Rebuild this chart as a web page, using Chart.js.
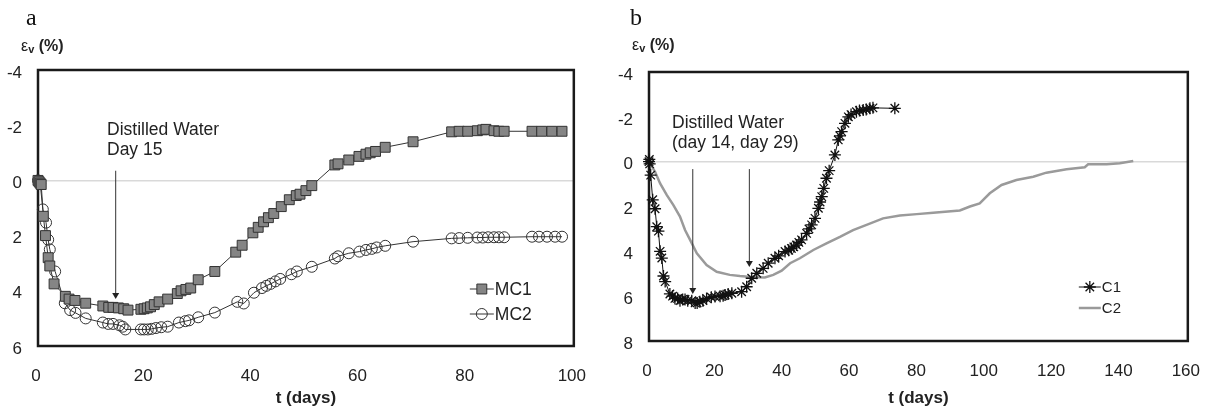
<!DOCTYPE html>
<html>
<head>
<meta charset="utf-8">
<script src="https://cdn.jsdelivr.net/npm/chart.js@4.4.0/dist/chart.umd.min.js"></script>
<style>
  body { margin: 0; background: #fff; font-family: "Liberation Sans", Arial, sans-serif; color: #222; }
  #page { position: relative; width: 1214px; height: 412px; overflow: hidden; }
  canvas { position: absolute; top: 0; }
  .txt { position: absolute; white-space: nowrap; }
  .panel { font-family: "Liberation Serif", "Times New Roman", serif; font-size: 24px; line-height: 24px; color: #111; }
  .ylab { font-size: 16px; line-height: 16px; color: #222; }
  .ylab b sub { font-size: 11px; vertical-align: -2px; }
  .note { font-size: 17.5px; line-height: 20px; color: #222; }
</style>
</head>
<body>
<div id="page">
  <canvas id="chartA" width="600" height="412" style="left:0"></canvas>
  <canvas id="chartB" width="607" height="412" style="left:607px"></canvas>

  <div class="txt panel" style="left:26px; top:5px">a</div>
  <div class="txt ylab" style="left:21px; top:38px">ε<b><sub>v</sub> (%)</b></div>
  <div class="txt note" style="left:107px; top:119px">Distilled Water<br>Day 15</div>

  <div class="txt panel" style="left:630px; top:5px">b</div>
  <div class="txt ylab" style="left:632px; top:37px">ε<b><sub>v</sub> (%)</b></div>
  <div class="txt note" style="left:672px; top:112px">Distilled Water<br>(day 14, day 29)</div>
</div>
<script>
// panel a - MC1 / MC2
const mc1Days = [0, 0.2, 0.4, 0.6, 1.0, 1.4, 1.9, 2.2, 3.0, 5.1, 5.8, 6.9, 8.9, 12.1, 13.2, 14.0, 15.0, 16.0, 16.8,
  19.2, 19.8, 20.4, 21.0, 21.7, 22.6, 24.2, 26.0, 26.7, 27.6, 28.5, 29.9, 33.0, 36.9, 38.1, 40.1, 41.1, 42.1, 43.0,
  44.0, 45.4, 46.9, 48.2, 48.9, 50.0, 51.1, 55.4, 56.0, 58.0, 59.9, 61.2, 62.0, 63.0, 64.8, 70.0, 77.2, 78.6, 80.2,
  82.0, 83.0, 83.6, 85.1, 86.0, 87.0, 92.2, 94.0, 95.9, 97.8];
const mc1Strain = [0, 0.05, 0.1, 0.15, 1.3, 2.0, 2.8, 3.1, 3.75, 4.2, 4.3, 4.35, 4.45, 4.55, 4.6, 4.6, 4.62, 4.65, 4.7,
  4.67, 4.65, 4.62, 4.58, 4.5, 4.4, 4.3, 4.1, 4.0, 3.95, 3.9, 3.6, 3.3, 2.6, 2.35, 1.9, 1.7, 1.5, 1.35,
  1.2, 0.95, 0.7, 0.55, 0.5, 0.37, 0.19, -0.56, -0.6, -0.74, -0.87, -0.95, -1.0, -1.05, -1.2, -1.4, -1.76, -1.78, -1.78,
  -1.8, -1.83, -1.85, -1.8, -1.78, -1.78, -1.78, -1.78, -1.78, -1.78];

const mc2Days = [0, 0.2, 0.4, 0.9, 1.5, 1.9, 2.2, 3.2, 5.0, 6.0, 7.0, 8.9, 12.1, 13.1, 14.0, 15.2, 15.8, 16.3,
  19.2, 19.8, 20.5, 21.2, 22.0, 23.0, 24.2, 26.3, 27.5, 28.2, 29.9, 33.0, 37.2, 38.4, 40.3, 41.8, 42.6, 43.4, 44.3,
  45.2, 47.3, 48.3, 51.1, 55.4, 56.0, 58.0, 60.0, 61.2, 62.3, 63.2, 64.8, 70.0, 77.2, 78.6, 80.2, 82.0, 83.0, 84.0,
  85.1, 86.0, 87.0, 92.2, 93.5, 95.0, 96.5, 97.8];
const mc2Strain = [0, 0.05, 0.1, 1.05, 1.53, 2.15, 2.5, 3.3, 4.45, 4.7, 4.8, 5.0, 5.15, 5.2, 5.2, 5.25, 5.3, 5.4,
  5.4, 5.4, 5.4, 5.38, 5.35, 5.32, 5.3, 5.15, 5.1, 5.07, 4.96, 4.79, 4.4, 4.46, 4.07, 3.9, 3.82, 3.75, 3.66,
  3.57, 3.4, 3.3, 3.13, 2.83, 2.75, 2.64, 2.58, 2.52, 2.48, 2.43, 2.37, 2.22, 2.1, 2.09, 2.08, 2.07, 2.07, 2.06,
  2.06, 2.06, 2.06, 2.04, 2.04, 2.04, 2.04, 2.04];

// panel b - C1 / C2
const c1Days = [0, 0.1, 0.2, 0.5, 1.1, 1.8, 2.3, 2.8, 3.3, 3.8, 4.3, 4.8, 6.2, 7.0, 7.7, 8.5, 9.2, 10.0, 10.7, 11.5,
  12.7, 13.7, 14.3, 15.1, 16.0, 17.1, 18.5, 19.6, 21.1, 22.0, 22.6, 23.5, 24.6, 27.5, 29.0, 30.5, 32.0, 33.9, 35.4,
  37.4, 38.5, 40.4, 41.5, 42.3, 43.0, 43.8, 44.5, 45.3, 46.8, 47.5, 48.3, 49.3, 50.3, 50.8, 51.3, 51.9, 52.7, 53.5,
  55.2, 56.2, 56.7, 57.2, 58.2, 59.2, 60.0, 61.6, 62.5, 63.6, 64.5, 65.6, 66.5, 73.0];
const c1Strain = [0, -0.1, 0.1, 0.6, 1.7, 2.1, 2.9, 3.1, 4.0, 4.3, 5.1, 5.35, 5.9, 6.0, 6.1, 6.1, 6.2, 6.15, 6.15, 6.2,
  6.2, 6.3, 6.3, 6.25, 6.2, 6.1, 6.05, 6.02, 6.0, 5.98, 5.95, 5.9, 5.87, 5.8, 5.58, 5.2, 4.98, 4.76, 4.53,
  4.31, 4.2, 4.01, 3.95, 3.87, 3.8, 3.72, 3.6, 3.49, 3.2, 3.0, 2.82, 2.53, 2.08, 1.8, 1.56, 1.19, 0.74, 0.4,
  -0.3, -0.97, -1.15, -1.34, -1.71, -2.0, -2.1, -2.23, -2.28, -2.3, -2.33, -2.38, -2.4, -2.38];

const c2Days = [0, 1.8, 3.3, 5.3, 7.2, 9.2, 10.7, 12.2, 14.2, 17.1, 20.1, 24.0, 27.0, 29.5, 32.0, 34.4, 36.9, 39.4,
  41.9, 44.8, 48.8, 52.7, 56.7, 60.6, 64.6, 69.5, 74.5, 79.5, 84.4, 92.3, 95.3, 98.2, 101.2, 104.7, 109.1, 114.1,
  118.0, 124.0, 129.4, 130.4, 135.9, 139.8, 143.8];
const c2Strain = [0, 0.45, 0.97, 1.49, 1.93, 2.45, 3.05, 3.49, 4.09, 4.61, 4.91, 5.05, 5.1, 5.13, 5.16, 5.17, 5.05, 4.86,
  4.53, 4.31, 3.94, 3.64, 3.35, 3.05, 2.82, 2.53, 2.4, 2.34, 2.28, 2.18, 2.0, 1.86, 1.41, 1.04, 0.82, 0.67,
  0.49, 0.34, 0.25, 0.12, 0.12, 0.07, -0.03];

// arrows marking the distilled water (day, top of line, tip)
const arrowsA = [{ day: 14.5, from: -0.35, to: 4.3 }];
const arrowsB = [{ day: 13, from: 0.33, to: 5.9 }, { day: 29.8, from: 0.33, to: 4.7 }];

const pts = (xs, ys) => xs.map((x, i) => ({ x: x, y: ys[i] }));
const FONT = '"Liberation Sans", Arial, sans-serif';

const framePlugin = {
  id: 'frame',
  beforeDatasetsDraw(chart) {
    const { ctx, chartArea: a } = chart;
    ctx.save();
    ctx.lineWidth = 2.5;
    ctx.strokeStyle = '#1a1a1a';
    ctx.strokeRect(a.left, a.top, a.right - a.left, a.bottom - a.top);
    ctx.restore();
  }
};

const arrowPlugin = {
  id: 'arrows',
  afterDatasetsDraw(chart, args, opts) {
    const { ctx, scales } = chart;
    ctx.save();
    ctx.strokeStyle = '#333';
    ctx.fillStyle = '#222';
    ctx.lineWidth = 1;
    (opts.items || []).forEach(a => {
      const x = scales.x.getPixelForValue(a.day);
      const y0 = scales.y.getPixelForValue(a.from);
      const y1 = scales.y.getPixelForValue(a.to);
      ctx.beginPath();
      ctx.moveTo(x, y0);
      ctx.lineTo(x, y1 - 5);
      ctx.stroke();
      ctx.beginPath();
      ctx.moveTo(x - 3.5, y1 - 6);
      ctx.lineTo(x + 3.5, y1 - 6);
      ctx.lineTo(x, y1);
      ctx.closePath();
      ctx.fill();
    });
    ctx.restore();
  }
};

// small legend inside the plot, bottom right
const boxLegend = {
  id: 'boxLegend',
  afterDraw(chart, args, opts) {
    const { ctx, chartArea: a } = chart;
    const cx = a.right - opts.dx;
    let y = a.bottom - opts.dy;
    ctx.save();
    chart.data.datasets.forEach(ds => {
      ctx.strokeStyle = ds.borderColor;
      ctx.lineWidth = ds.borderWidth;
      ctx.beginPath();
      ctx.moveTo(cx - opts.half, y);
      ctx.lineTo(cx + opts.half, y);
      ctx.stroke();
      if (ds.pointRadius > 0) {
        ctx.fillStyle = ds.pointBackgroundColor;
        ctx.strokeStyle = ds.pointBorderColor;
        ctx.lineWidth = ds.pointBorderWidth;
        Chart.helpers.drawPoint(ctx, {
          pointStyle: ds.pointStyle,
          radius: ds.pointRadius,
          borderWidth: ds.pointBorderWidth
        }, cx, y);
      }
      ctx.fillStyle = '#222';
      ctx.font = opts.font;
      ctx.textBaseline = 'middle';
      ctx.fillText(ds.label, cx + opts.half + 1, y + 1);
      y += opts.gap;
    });
    ctx.restore();
  }
};

function makeOptions(cfg) {
  return {
    responsive: false,
    animation: false,
    devicePixelRatio: 1,
    layout: { padding: { top: cfg.top, right: cfg.right, left: 0, bottom: 0 } },
    plugins: {
      legend: { display: false },
      tooltip: { enabled: false },
      arrows: { items: cfg.arrows },
      boxLegend: cfg.legend
    },
    scales: {
      x: {
        type: 'linear',
        min: 0, max: cfg.xMax,
        afterFit: s => { s.height = cfg.xHeight; },
        border: { display: false },
        grid: { display: false },
        ticks: { stepSize: cfg.xStep, padding: 12, maxRotation: 0, labelOffset: -2, color: '#222', font: { family: FONT, size: 17 } },
        title: { display: true, text: 't (days)', color: '#222', padding: { top: 0, bottom: 3 }, font: { family: FONT, size: 17, weight: 'bold' } }
      },
      y: {
        type: 'linear',
        reverse: true,
        min: -4, max: cfg.yMax,
        afterFit: s => { s.width = cfg.yWidth; },
        border: { display: false },
        grid: {
          drawTicks: false,
          lineWidth: 1.5,
          color: c => (c.tick && c.tick.value === 0) ? '#d9d9d9' : 'rgba(0,0,0,0)'
        },
        ticks: { stepSize: 2, padding: 16, labelOffset: 3, color: '#222', font: { family: FONT, size: 17 } }
      }
    }
  };
}

new Chart(document.getElementById('chartA'), {
  type: 'scatter',
  data: {
    datasets: [
      {
        label: 'MC1', data: pts(mc1Days, mc1Strain), showLine: true, clip: false,
        borderColor: '#333', borderWidth: 1,
        pointStyle: 'rect', pointRadius: 7, pointBorderWidth: 1,
        pointBackgroundColor: '#858585', pointBorderColor: '#333'
      },
      {
        label: 'MC2', data: pts(mc2Days, mc2Strain), showLine: true, clip: false,
        borderColor: '#333', borderWidth: 1,
        pointStyle: 'circle', pointRadius: 5.5, pointBorderWidth: 1,
        pointBackgroundColor: 'rgba(255,255,255,0)', pointBorderColor: '#333'
      }
    ]
  },
  options: makeOptions({
    top: 70, right: 23, yWidth: 38, xHeight: 66, xMax: 100, xStep: 20, yMax: 6,
    arrows: arrowsA,
    legend: { dx: 92, dy: 57, gap: 25, half: 12, font: '17.5px ' + FONT }
  }),
  plugins: [framePlugin, arrowPlugin, boxLegend]
});

new Chart(document.getElementById('chartB'), {
  type: 'scatter',
  data: {
    datasets: [
      {
        label: 'C1', data: pts(c1Days, c1Strain), showLine: true, clip: false,
        borderColor: '#111', borderWidth: 1,
        pointStyle: 'star', pointRadius: 6, pointBorderWidth: 1.3,
        pointBackgroundColor: '#111', pointBorderColor: '#111'
      },
      {
        label: 'C2', data: pts(c2Days, c2Strain), showLine: true, clip: false,
        borderColor: '#9a9a9a', borderWidth: 2.5,
        pointRadius: 0
      }
    ]
  },
  options: makeOptions({
    top: 72, right: 26, yWidth: 42, xHeight: 71, xMax: 160, xStep: 20, yMax: 8,
    arrows: arrowsB,
    legend: { dx: 98, dy: 54, gap: 21, half: 11, font: '15px ' + FONT }
  }),
  plugins: [framePlugin, arrowPlugin, boxLegend]
});
</script>
</body>
</html>
